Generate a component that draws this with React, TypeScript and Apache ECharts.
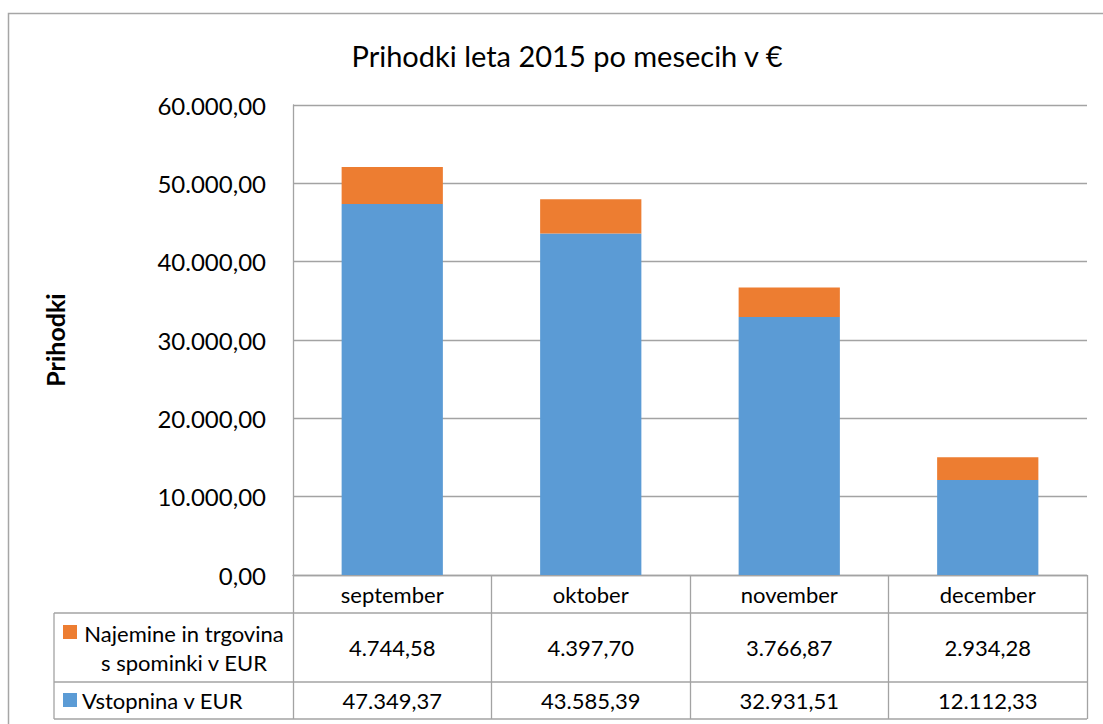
import React, { useEffect, useRef } from "react";
import * as echarts from "echarts";

const chartTitle = "Prihodki leta 2015 po mesecih v €";
const yAxisName = "Prihodki";
const categories = ["september", "oktober", "november", "december"];
const seriesNames = ["Vstopnina v EUR", "Najemine in trgovina s spominki v EUR"];
const legendLabels = ["Vstopnina v EUR", "Najemine in trgovina\ns spominki v EUR"];
const vstopnina = [47349.37, 43585.39, 32931.51, 12112.33];
const najemine = [4744.58, 4397.7, 3766.87, 2934.28];
const yMin = 0;
const yMax = 60000;
const yInterval = 10000;

const BLUE = "#5B9BD5";
const ORANGE = "#ED7D31";
const LINE = "#a3a3a3";
const FONT = "Lato, 'Open Sans', sans-serif";

function fmt(v: number): string {
  const [i, d] = v.toFixed(2).split(".");
  return i.replace(/\B(?=(\d{3})+(?!\d))/g, ".") + "," + d;
}

export default function App() {
  const ref = useRef<HTMLDivElement>(null);
  useEffect(() => {
    if (!ref.current) return;
    const chart = echarts.init(ref.current, undefined, { renderer: "svg" });
    const gl = 293, gr = 1087, gt = 105, gb = 575;
    const tableLeft = 54;
    const rowLines = [613, 682, 719];
    const hLine = (y: number) => ({
      type: "line",
      shape: { x1: tableLeft, y1: y, x2: gr, y2: y },
      style: { stroke: LINE, lineWidth: 1.3 },
      silent: true,
    });
    chart.setOption({
      animation: false,
      backgroundColor: "#ffffff",
      textStyle: { fontFamily: FONT },
      title: {
        text: chartTitle,
        left: 562,
        top: 36,
        textAlign: "center",
        textStyle: { fontFamily: FONT, fontSize: 29, fontWeight: "normal", color: "#000" },
      },
      grid: { left: gl, right: 1103 - gr, top: gt, bottom: 724 - gb, containLabel: false },
      xAxis: [
        {
          type: "category",
          data: categories,
          position: "bottom",
          axisLine: { show: true, lineStyle: { color: LINE, width: 1.3 } },
          axisTick: { show: true, length: 144, lineStyle: { color: LINE, width: 1.3 } },
          axisLabel: { color: "#000", fontSize: 22, fontFamily: FONT, margin: 19, verticalAlign: "middle" },
        },
        {
          type: "category",
          data: categories,
          position: "bottom",
          offset: 72,
          axisLine: { show: false },
          axisTick: { show: false },
          axisLabel: {
            color: "#000",
            fontSize: 22,
            fontFamily: FONT,
            margin: 0,
            verticalAlign: "middle",
            formatter: (_: string, idx: number) => fmt(najemine[idx]),
          },
        },
        {
          type: "category",
          data: categories,
          position: "bottom",
          offset: 125,
          axisLine: { show: false },
          axisTick: { show: false },
          axisLabel: {
            color: "#000",
            fontSize: 22,
            fontFamily: FONT,
            margin: 0,
            verticalAlign: "middle",
            formatter: (_: string, idx: number) => fmt(vstopnina[idx]),
          },
        },
      ],
      yAxis: {
        type: "value",
        min: yMin,
        max: yMax,
        interval: yInterval,
        name: yAxisName,
        nameLocation: "middle",
        nameRotate: 90,
        nameGap: 226,
        nameTextStyle: { fontFamily: FONT, fontSize: 25, fontWeight: "bold", color: "#000" },
        axisLine: { show: true, lineStyle: { color: LINE, width: 1.3 } },
        axisTick: { show: false },
        splitLine: { show: true, lineStyle: { color: LINE, width: 1.3 } },
        axisLabel: { color: "#000", fontSize: 24, fontFamily: FONT, margin: 27, formatter: (v: number) => fmt(v) },
      },
      series: [
        {
          name: seriesNames[0],
          type: "bar",
          stack: "total",
          barWidth: "51%",
          itemStyle: { color: BLUE },
          data: vstopnina,
        },
        {
          name: seriesNames[1],
          type: "bar",
          stack: "total",
          barWidth: "51%",
          itemStyle: { color: ORANGE },
          data: najemine,
        },
      ],
      graphic: [
        {
          type: "rect",
          shape: { x: 8.5, y: 13.5, width: 1200, height: 800 },
          style: { fill: "none", stroke: "#a6a6a6", lineWidth: 1.5 },
          silent: true,
          z: -1,
        },
        ...rowLines.map(hLine),
        {
          type: "line",
          shape: { x1: tableLeft, y1: rowLines[0], x2: tableLeft, y2: rowLines[2] },
          style: { stroke: LINE, lineWidth: 1.3 },
          silent: true,
        },
        {
          type: "rect",
          shape: { x: 63, y: 625, width: 14, height: 14 },
          style: { fill: ORANGE },
        },
        {
          type: "text",
          x: 184,
          y: 648,
          style: {
            text: legendLabels[1],
            fontFamily: FONT,
            fontSize: 22,
            lineHeight: 29,
            fill: "#000",
            align: "center",
            verticalAlign: "middle",
          },
        },
        {
          type: "rect",
          shape: { x: 63, y: 693, width: 14, height: 14 },
          style: { fill: BLUE },
        },
        {
          type: "text",
          x: 82,
          y: 700,
          style: {
            text: legendLabels[0],
            fontFamily: FONT,
            fontSize: 22,
            fill: "#000",
            align: "left",
            verticalAlign: "middle",
          },
        },
      ],
    });
    return () => chart.dispose();
  }, []);
  return (
    <div
      ref={ref}
      style={{ position: "fixed", left: 0, top: 0, width: 1103, height: 724, background: "#fff" }}
    />
  );
}
